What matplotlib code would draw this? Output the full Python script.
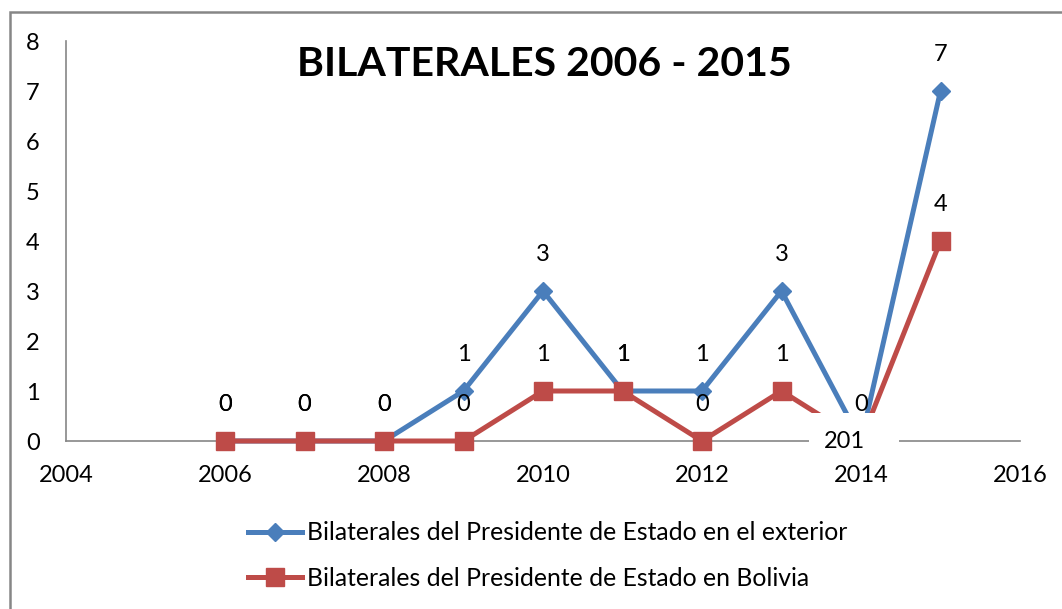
import matplotlib
matplotlib.use("Agg")
import matplotlib.pyplot as plt
from matplotlib.patches import Rectangle

plt.rcParams['font.family'] = ['Lato', 'DejaVu Sans']

years = [2006, 2007, 2008, 2009, 2010, 2011, 2012, 2013, 2014, 2015]
exterior = [0, 0, 0, 1, 3, 1, 1, 3, 0, 7]
bolivia = [0, 0, 0, 0, 1, 1, 0, 1, 0, 4]
label_exterior = "Bilaterales del Presidente de Estado en el exterior"
label_bolivia = "Bilaterales del Presidente de Estado en Bolivia"
title = "BILATERALES 2006 - 2015"
xticks = [2004, 2006, 2008, 2010, 2012, 2014, 2016]
yticks = [0, 1, 2, 3, 4, 5, 6, 7, 8]

W, H = 1062, 609
fig = plt.figure(figsize=(W / 100, H / 100), dpi=100)
ax = fig.add_axes([66 / W, 1 - 441 / H, (1020 - 66) / W, (441 - 41) / H])

blue = '#4A7EBB'
red = '#BE4B48'
axis_c = '#868686'

ax.plot(years, exterior, color=blue, lw=3.6, marker='D', ms=9.5,
        mfc=blue, mec=blue, label=label_exterior, zorder=3, clip_on=False)
ax.plot(years, bolivia, color=red, lw=3.6, marker='s', ms=13.5,
        mfc=red, mec=red, label=label_bolivia, zorder=4, clip_on=False)

lab_fs = 17
for x, y in zip(years, exterior):
    ax.annotate(str(y), (x, y), xytext=(0, 26), textcoords='offset points',
                ha='center', va='center', fontsize=lab_fs, zorder=5)
for x, y in zip(years, bolivia):
    if x == 2014:
        continue
    ax.annotate(str(y), (x, y), xytext=(0, 26), textcoords='offset points',
                ha='center', va='center', fontsize=lab_fs, zorder=5)

# white label box near 2014
ax.add_patch(Rectangle((2013.34, -0.42), 1.14, 0.98, facecolor='white',
                       edgecolor='none', zorder=6, clip_on=False))
ax.text(2013.79, 0.0, "201", ha='center', va='center', fontsize=lab_fs, zorder=7)

ax.set_xlim(2004, 2016)
ax.set_ylim(0, 8)
ax.set_xticks(xticks)
ax.set_yticks(yticks)
ax.tick_params(axis='both', length=0, labelsize=17)
ax.tick_params(axis='x', pad=17)
ax.tick_params(axis='y', pad=19)
for s in ['top', 'right']:
    ax.spines[s].set_visible(False)
for s in ['left', 'bottom']:
    ax.spines[s].set_color(axis_c)
    ax.spines[s].set_linewidth(1.2)
ax.set_facecolor('none')

fig.text(544 / W, 1 - 65 / H, title, ha='center', va='center',
         fontsize=29.5, fontweight='bold')

leg = fig.legend(loc='center left', bbox_to_anchor=(248 / W, 1 - 555.5 / H),
                 frameon=False, fontsize=17.8, borderaxespad=0, borderpad=0,
                 handlelength=2.2, handletextpad=0.2, labelspacing=0.9)

# outer frame of chart area
fig.patches.append(Rectangle((10 / W, -0.1), 1.2, 1 - 12 / H + 0.1,
                             transform=fig.transFigure, fill=False,
                             edgecolor=axis_c, lw=1.8))

fig.savefig('out.png', dpi=100)
